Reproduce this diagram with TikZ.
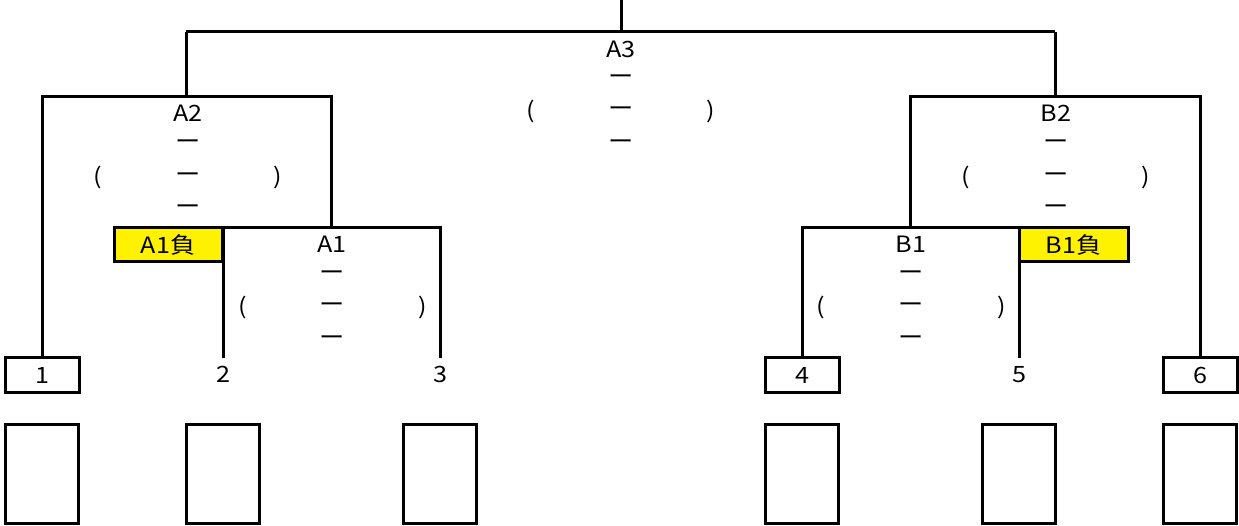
\documentclass[tikz,border=0pt]{standalone}
\usepackage{fontspec}
\setmainfont[FakeStretch=1.12]{Noto Sans CJK JP}
\begin{document}
\begin{tikzpicture}[x=1pt,y=-1pt,
  line/.style={draw=black,line width=3pt},
  lbl/.style={inner sep=0pt,font=\fontsize{22.5}{22.5}\selectfont},
  leafbox/.style={draw=black,line width=3pt,fill=white,minimum width=74pt,minimum height=34pt,inner sep=0pt,font=\fontsize{22.5}{22.5}\selectfont},
  losebox/.style={draw=black,line width=3pt,fill=yellow,minimum height=34pt,inner sep=0pt,font=\fontsize{22.5}{22.5}\selectfont},
  slot/.style={draw=black,line width=3pt,minimum width=73pt,minimum height=99pt,inner sep=0pt}]
\useasboundingbox (0,0) rectangle (1239,526);
% junction coordinates
\coordinate (top) at (621,0);
\coordinate (j3) at (621,32);
\coordinate (a2t) at (186,32);
\coordinate (b2t) at (1055,32);
\coordinate (a2c) at (186,97);
\coordinate (a2l) at (42,97);
\coordinate (a2r) at (331,97);
\coordinate (a2rb) at (331,228);
\coordinate (a1l) at (223,228);
\coordinate (a1r) at (440,228);
\coordinate (b2c) at (1055,97);
\coordinate (b2l) at (910,97);
\coordinate (b2r) at (1200,97);
\coordinate (b2lb) at (910,228);
\coordinate (b1l) at (802,228);
\coordinate (b1r) at (1019,228);
% leaves
\node[leafbox] (l1) at (42,375) {1};
\node[lbl] (l2) at (223,374.5) {2};
\node[lbl] (l3) at (440,374.5) {3};
\node[leafbox] (l4) at (802,375) {4};
\node[lbl] (l5) at (1019,374.5) {5};
\node[leafbox] (l6) at (1200,375) {6};
\coordinate (l2t) at (223,358);
\coordinate (l3t) at (440,358);
\coordinate (l5t) at (1019,358);
% connectors
\draw[line] (top) -- (j3);
\draw[line] (a2t) -- (b2t);
\draw[line] (a2t) -- (a2c);
\draw[line] (l1.north) -- (a2l) -- (a2r) -- (a2rb);
\draw[line] (l2t) -- (a1l) -- (a1r) -- (l3t);
\draw[line] (b2t) -- (b2c);
\draw[line] (b2lb) -- (b2l) -- (b2r) -- (l6.north);
\draw[line] (l4.north) -- (b1l) -- (b1r) -- (l5t);
% loser boxes
\node[losebox,minimum width=108pt] (la) at (168,245) {A1負};
\node[losebox,minimum width=109pt] (lb) at (1073.5,245) {B1負};
% match labels
\node[lbl] (A3) at (621,49.5) {A3};
\node[lbl] at (621,80) {ー};
\node[lbl] at (621,112) {ー};
\node[lbl] at (621,145) {ー};
\node[lbl] at (531,112) {(};
\node[lbl] at (711,112) {)};
\node[lbl] (A2) at (188,113.5) {A2};
\node[lbl] at (188,145) {ー};
\node[lbl] at (188,178) {ー};
\node[lbl] at (188,210) {ー};
\node[lbl] at (98,178) {(};
\node[lbl] at (278,178) {)};
\node[lbl] (A1) at (332,244.5) {A1};
\node[lbl] at (332,276) {ー};
\node[lbl] at (332,308) {ー};
\node[lbl] at (332,341) {ー};
\node[lbl] at (243,308) {(};
\node[lbl] at (423,308) {)};
\node[lbl] (B2) at (1056,113.5) {B2};
\node[lbl] at (1056,145) {ー};
\node[lbl] at (1056,178) {ー};
\node[lbl] at (1056,210) {ー};
\node[lbl] at (966,178) {(};
\node[lbl] at (1146,178) {)};
\node[lbl] (B1) at (911,244.5) {B1};
\node[lbl] at (911,276) {ー};
\node[lbl] at (911,308) {ー};
\node[lbl] at (911,341) {ー};
\node[lbl] at (821,308) {(};
\node[lbl] at (1002,308) {)};
% bottom slots
\node[slot] (s1) at (42,473.5) {};
\node[slot] (s2) at (222.5,473.5) {};
\node[slot] (s3) at (440,473.5) {};
\node[slot] (s4) at (801.5,473.5) {};
\node[slot] (s5) at (1019,473.5) {};
\node[slot] (s6) at (1199.5,473.5) {};
\end{tikzpicture}
\end{document}
